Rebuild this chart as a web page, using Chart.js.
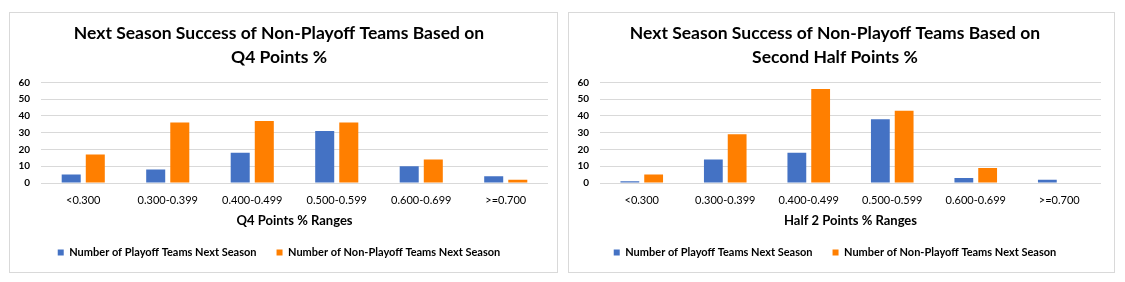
<!DOCTYPE html>
<html>
<head>
<meta charset="utf-8">
<script src="https://cdn.jsdelivr.net/npm/chart.js@4.4.1/dist/chart.umd.min.js"></script>
<style>
  body { margin:0; background:#fff; width:1125px; height:282px; position:relative; overflow:hidden; }
  .box { position:absolute; border:1px solid #d9d9d9; background:#fff; }
  #box1 { left:9px; top:12px; width:547px; height:259px; }
  #box2 { left:568px; top:12px; width:545px; height:259px; }
  canvas { display:block; }
</style>
</head>
<body>
<div class="box" id="box1"><canvas id="chart1" width="547" height="259"></canvas></div>
<div class="box" id="box2"><canvas id="chart2" width="545" height="259"></canvas></div>
<script>
var ranges = ["<0.300", "0.300-0.399", "0.400-0.499", "0.500-0.599", "0.600-0.699", ">=0.700"];
var yTicks = [0, 10, 20, 30, 40, 50, 60];

// Q4 points %
var q4Playoff    = [5, 8, 18, 31, 10, 4];
var q4NonPlayoff = [17, 36, 37, 36, 14, 2];

// second half points %
var h2Playoff    = [1, 14, 18, 38, 3, 2];
var h2NonPlayoff = [5, 29, 56, 43, 9, 0];

var seriesNames = ["Number of Playoff Teams Next Season", "Number of Non-Playoff Teams Next Season"];
var blue = "#4472C4";
var orange = "#FF7F00";
var fam = "Lato, 'Liberation Sans', sans-serif";

function makeChart(id, titleLines, axisTitle, playoff, nonPlayoff, rightPad) {
    var ctx = document.getElementById(id).getContext("2d");
    return new Chart(ctx, {
        type: "bar",
        data: {
            labels: ranges,
            datasets: [
                { label: seriesNames[0], data: playoff, backgroundColor: blue },
                { label: seriesNames[1], data: nonPlayoff, backgroundColor: orange }
            ]
        },
        options: {
            responsive: false,
            animation: false,
            layout: { padding: { left: 0, right: rightPad, top: 4, bottom: 7 } },
            datasets: { bar: { barPercentage: 0.79, categoryPercentage: 0.57 } },
            plugins: {
                tooltip: { enabled: false },
                title: {
                    display: true,
                    text: titleLines,
                    color: "#000",
                    font: { family: fam, size: 17.5, weight: "bold", lineHeight: 1.38 },
                    padding: { top: 4, bottom: 13 }
                },
                legend: {
                    position: "bottom",
                    maxHeight: 38,
                    labels: {
                        boxWidth: 6, boxHeight: 6,
                        padding: 20,
                        color: "#000",
                        font: { family: fam, size: 11, weight: "bold" }
                    }
                }
            },
            scales: {
                x: {
                    grid: { display: false, drawTicks: false },
                    border: { display: false },
                    ticks: { color: "#000", font: { family: fam, size: 11, lineHeight: 1 }, padding: 12, maxRotation: 0 },
                    title: {
                        display: true, text: axisTitle, color: "#000",
                        font: { family: fam, size: 13, weight: "bold", lineHeight: 1 },
                        padding: { top: -4, bottom: 0 }
                    }
                },
                y: {
                    min: 0, max: 60,
                    afterBuildTicks: function(scale) {
                        scale.ticks = yTicks.map(function(v) { return { value: v }; });
                    },
                    afterFit: function(scale) { scale.width = 31; },
                    grid: { color: "#d9d9d9", drawTicks: false },
                    border: { display: false },
                    ticks: { autoSkip: false, color: "#000", font: { family: fam, size: 10, weight: "bold" }, padding: 11 }
                }
            }
        }
    });
}

makeChart("chart1", ["Next Season Success of Non-Playoff Teams Based on", "Q4 Points %"],
    "Q4 Points % Ranges", q4Playoff, q4NonPlayoff, 9);
makeChart("chart2", ["Next Season Success of Non-Playoff Teams Based on", "Second Half Points %"],
    "Half 2 Points % Ranges", h2Playoff, h2NonPlayoff, 13);
</script>
</body>
</html>
